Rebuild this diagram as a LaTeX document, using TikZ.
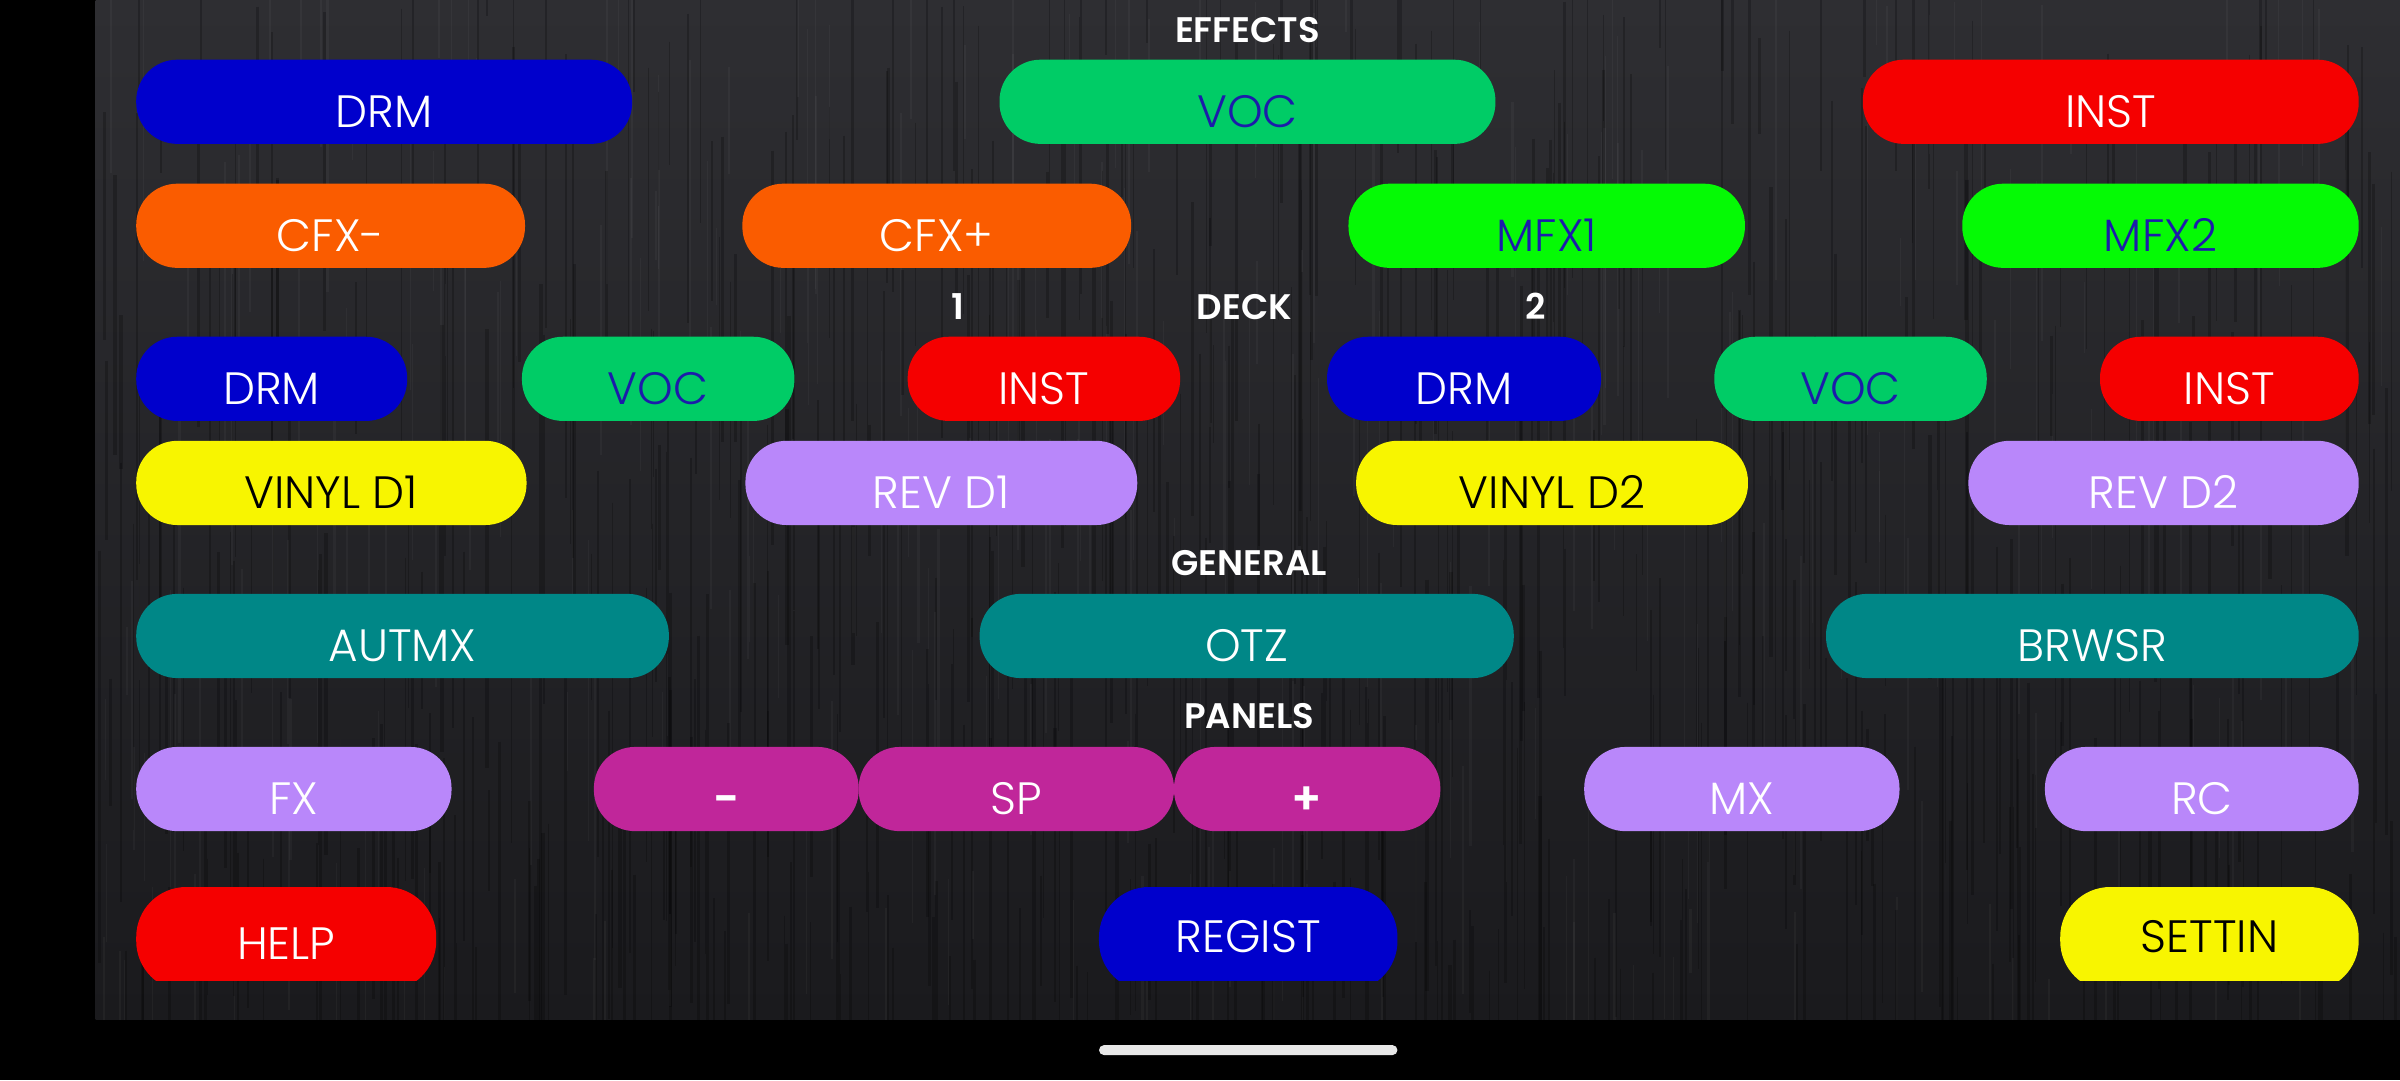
\documentclass[tikz,border=0pt]{standalone}
\usepackage{fontspec}
\setmainfont{Poppins}[UprightFont={* Light}, BoldFont={* SemiBold}]
\definecolor{bgtop}{RGB}{46,46,50}
\definecolor{bgbot}{RGB}{26,26,29}
\definecolor{cblue}{RGB}{0,0,204}
\definecolor{cgreen}{RGB}{0,204,102}
\definecolor{cred}{RGB}{245,0,0}
\definecolor{corange}{RGB}{250,92,0}
\definecolor{clime}{RGB}{5,250,5}
\definecolor{cyellow}{RGB}{248,245,0}
\definecolor{clav}{RGB}{185,135,250}
\definecolor{cteal}{RGB}{0,135,135}
\definecolor{cmag}{RGB}{192,38,154}
\definecolor{tblue}{RGB}{28,28,170}
\definecolor{hbar}{RGB}{232,232,232}
\tikzset{
  btn/.style={rectangle, rounded corners=0.41cm, inner sep=0pt, anchor=center,
    minimum height=0.8418cm, text height=0.505cm, text depth=0pt,
    font=\fontsize{12.9}{14}\selectfont},
  btnlow/.style={btn, rounded corners=0.5cm, minimum height=1.0408cm, text height=0.2755cm},
  hdr/.style={font=\fontsize{10.1}{12}\selectfont\bfseries, text=white, anchor=base, inner sep=0pt},
}
\newcommand\mybtn[8][btn]{% style, name, x1, x2, top, fill, textcolor, text
  \node[#1, fill=#6, text=#7, minimum width={(#4-#3)*0.015306cm}] (#2) at ({(#3+#4)/2},{#5+27.5}) {#8};}
\newcommand\mylow[8][btnlow]{%
  \node[#1, fill=#6, text=#7, minimum width={(#4-#3)*0.015306cm}] (#2) at ({(#3+#4)/2},{#5+34}) {#8};}
\begin{document}
\begin{tikzpicture}[x=0.015306cm, y=-0.015306cm]
\useasboundingbox (0,0) rectangle (1568,705.6);
% background
\fill[black] (0,0) rectangle (1568,705.6);
\shade[top color=bgtop, bottom color=bgbot] (62.5,0) rectangle (1568,665.8);
\begin{scope}
\clip (62.5,0) rectangle (1568,665.8);
\pgfmathsetseed{7}
\foreach \i in {1,...,600}{
  \pgfmathsetmacro\xx{62+rnd*1506}
  \pgfmathsetmacro\yy{rnd*700-60}
  \pgfmathsetmacro\ll{60+rnd*260}
  \pgfmathsetmacro\ww{0.2+rnd*0.8}
  \draw[black, opacity=0.22, line width=\ww pt] (\xx,\yy) -- (\xx,\yy+\ll);
}
\foreach \i in {1,...,300}{
  \pgfmathsetmacro\xx{62+rnd*1506}
  \pgfmathsetmacro\yy{rnd*700-60}
  \pgfmathsetmacro\ll{40+rnd*180}
  \pgfmathsetmacro\ww{0.2+rnd*0.5}
  \draw[white, opacity=0.035, line width=\ww pt] (\xx,\yy) -- (\xx,\yy+\ll);
}
\end{scope}
% headers
\node[hdr] (effects) at (815,28) {EFFECTS};
\node[hdr] (deck) at (813,209) {DECK};
\node[hdr] (one) at (626,209) {1};
\node[hdr] (two) at (1003,209) {2};
\node[hdr] (general) at (816,376) {GENERAL};
\node[hdr] (panels) at (816,476) {PANELS};
% row 1
\mybtn{e1}{89}{413}{39}{cblue}{white}{DRM}
\mybtn{e2}{653}{977}{39}{cgreen}{tblue}{VOC}
\mybtn{e3}{1217}{1541}{39}{cred}{white}{INST}
% row 2
\mybtn{f1}{89}{343}{120}{corange}{white}{CFX-}
\mybtn{f2}{485}{739}{120}{corange}{white}{CFX+}
\mybtn{f3}{881}{1140}{120}{clime}{tblue}{MFX1}
\mybtn{f4}{1282}{1541}{120}{clime}{tblue}{MFX2}
% row 3
\mybtn{d1}{89}{266}{220}{cblue}{white}{DRM}
\mybtn{d2}{341}{519}{220}{cgreen}{tblue}{VOC}
\mybtn{d3}{593}{771}{220}{cred}{white}{INST}
\mybtn{d4}{867}{1046}{220}{cblue}{white}{DRM}
\mybtn{d5}{1120}{1298}{220}{cgreen}{tblue}{VOC}
\mybtn{d6}{1372}{1541}{220}{cred}{white}{INST}
% row 4
\mybtn{v1}{89}{344}{288}{cyellow}{black}{VINYL D1}
\mybtn{v2}{487}{743}{288}{clav}{white}{REV D1}
\mybtn{v3}{886}{1142}{288}{cyellow}{black}{VINYL D2}
\mybtn{v4}{1286}{1541}{288}{clav}{white}{REV D2}
% row 5
\mybtn{g1}{89}{437}{388}{cteal}{white}{AUTMX}
\mybtn{g2}{640}{989}{388}{cteal}{white}{OTZ}
\mybtn{g3}{1193}{1541}{388}{cteal}{white}{BRWSR}
% row 6
\mybtn{p1}{89}{295}{488}{clav}{white}{FX}
\mybtn{p2}{388}{561}{488}{cmag}{white}{\bfseries -}
\mybtn{p3}{561}{767}{488}{cmag}{white}{SP}
\mybtn{p4}{767}{941}{488}{cmag}{white}{\bfseries +}
\mybtn{p5}{1035}{1241}{488}{clav}{white}{MX}
\mybtn{p6}{1336}{1541}{488}{clav}{white}{RC}
% bottom row (clipped)
\begin{scope}
\clip (0,0) rectangle (1568,640.3);
\mylow[btnlow, text height=0.413cm]{help}{89}{285}{579.5}{cred}{white}{HELP}
\mylow{regist}{718}{913}{579.5}{cblue}{white}{REGIST}
\mylow{settin}{1346}{1541}{579.5}{cyellow}{black}{SETTIN}
\end{scope}
% home indicator
\fill[hbar, rounded corners=0.05cm] (718,682.8) rectangle (913,689.3);
\end{tikzpicture}
\end{document}
